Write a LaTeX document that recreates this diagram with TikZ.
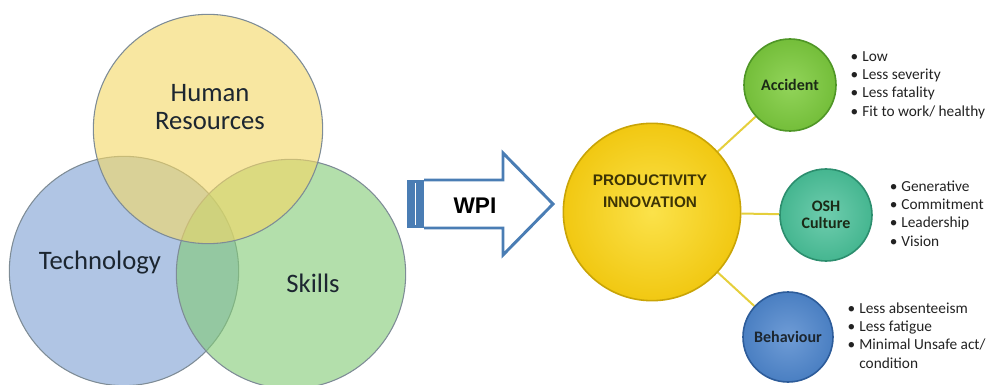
\documentclass[tikz,border=0pt]{standalone}
\usepackage{fontspec}
\setmainfont{Carlito}
\newfontfamily\arialfont{Liberation Sans}
\usetikzlibrary{positioning, backgrounds}

\definecolor{hrYellow}{HTML}{F4D867}
\definecolor{techBlue}{HTML}{7FA2D4}
\definecolor{skillGreen}{HTML}{84CB78}
\definecolor{vennEdge}{HTML}{7E8C96}
\definecolor{vennText}{HTML}{1C2630}
\definecolor{arrowBlue}{HTML}{4A7DB4}
\definecolor{prodLight}{HTML}{FBE24A}
\definecolor{prodMain}{HTML}{F1C812}
\definecolor{prodEdge}{HTML}{C9A406}
\definecolor{prodText}{HTML}{3D3405}
\definecolor{linkYellow}{HTML}{E5CF3C}
\definecolor{accLight}{HTML}{92D45A}
\definecolor{accMain}{HTML}{74BE3A}
\definecolor{accEdge}{HTML}{4F9626}
\definecolor{oshLight}{HTML}{6FCDAE}
\definecolor{oshMain}{HTML}{45B690}
\definecolor{oshEdge}{HTML}{2C8E6E}
\definecolor{behLight}{HTML}{6F9CD6}
\definecolor{behMain}{HTML}{4A7FC2}
\definecolor{behEdge}{HTML}{2D5C9A}
\definecolor{ballText}{HTML}{1B2A16}
\definecolor{listText}{HTML}{222222}

\begin{document}
\begin{tikzpicture}[x = 0.75pt, y = -0.75pt, node distance = 4mm and 3.6mm]
        \tikzstyle{venn} = [circle, minimum size = 172pt, draw = vennEdge, line width = 0.8pt, fill opacity = 0.62]
        \tikzstyle{venntext} = [align = center, text = vennText, font = \fontsize{20}{21}\selectfont]
        \tikzstyle{ball} = [circle, minimum size = 69pt, line width = 1.2pt, align = center, font = \bfseries\fontsize{12}{13}\selectfont]
        \tikzstyle{bullets} = [inner sep = 0pt, text = listText, font = \fontsize{11.5}{13.8}\selectfont]
        \tikzstyle{connect} = [line width = 1.5pt, draw = linkYellow]
        \useasboundingbox (0,0) rectangle (990,385);
        \clip (0,0) rectangle (990,385);
        % venn of the three inputs
        \node[venn, fill = techBlue] (tech) at (124,271) {};
        \node[venn, fill = skillGreen] (skl) at (291,274) {};
        \node[venn, fill = hrYellow] (hr) at (208,129) {};
        \node[venntext] (hrtext) at (210,107) {Human\\Resources};
        \node[venntext] (techtext) at (100,263) {Technology};
        \node[venntext] (skltext) at (313,283) {Skills};
        % arrow
        \fill[arrowBlue] (407,180) rectangle (424,228);
        \draw[white, line width = 1pt] (415.5,183) -- (415.5,225);
        \draw[arrowBlue, line width = 2.2pt, fill = white] (424,180) -- (503,180) -- (503,153) -- (553,204) -- (503,255) -- (503,228) -- (424,228);
        \node[font = \arialfont\bfseries\fontsize{17}{20}\selectfont] (wpi) at (475,206) {WPI};
        % outcome hub
        \node[circle, minimum size = 133pt, line width = 1.2pt, draw = prodEdge, inner color = prodLight, outer color = prodMain] (prod) at (652,212) {};
        \node[align = center, text = prodText, font = \arialfont\bfseries\fontsize{11.5}{16.5}\selectfont] (prodtext) at (650,191) {PRODUCTIVITY\\INNOVATION};
        \node[ball, draw = accEdge, inner color = accLight, outer color = accMain, text = ballText] (acc) at (790,85) {Accident};
        \node[ball, draw = oshEdge, inner color = oshLight, outer color = oshMain, text = ballText] (osh) at (826,215) {OSH\\Culture};
        \node[ball, minimum size = 67.5pt, draw = behEdge, inner color = behLight, outer color = behMain, text = vennText] (beh) at (788,337) {Behaviour};
        \begin{scope}[on background layer]
          \path (prod) edge [connect] (acc) (prod) edge [connect] (osh) (prod) edge [connect] (beh);
        \end{scope}
        % bullet lists
        \node[bullets, right = of acc] (acclist) {\begin{tabular}{@{}l@{\hspace{3pt}}l@{}}
          \textbullet & Low\\ \textbullet & Less severity\\ \textbullet & Less fatality\\ \textbullet & Fit to work/ healthy
        \end{tabular}};
        \node[bullets, right = 4.4mm of osh] (oshlist) {\begin{tabular}{@{}l@{\hspace{3pt}}l@{}}
          \textbullet & Generative\\ \textbullet & Commitment\\ \textbullet & Leadership\\ \textbullet & Vision
        \end{tabular}};
        \node[bullets, right = of beh] (behlist) {\begin{tabular}{@{}l@{\hspace{3pt}}l@{}}
          \textbullet & Less absenteeism\\ \textbullet & Less fatigue\\ \textbullet & Minimal Unsafe act/\\ & condition
        \end{tabular}};
      \end{tikzpicture}
\end{document}
